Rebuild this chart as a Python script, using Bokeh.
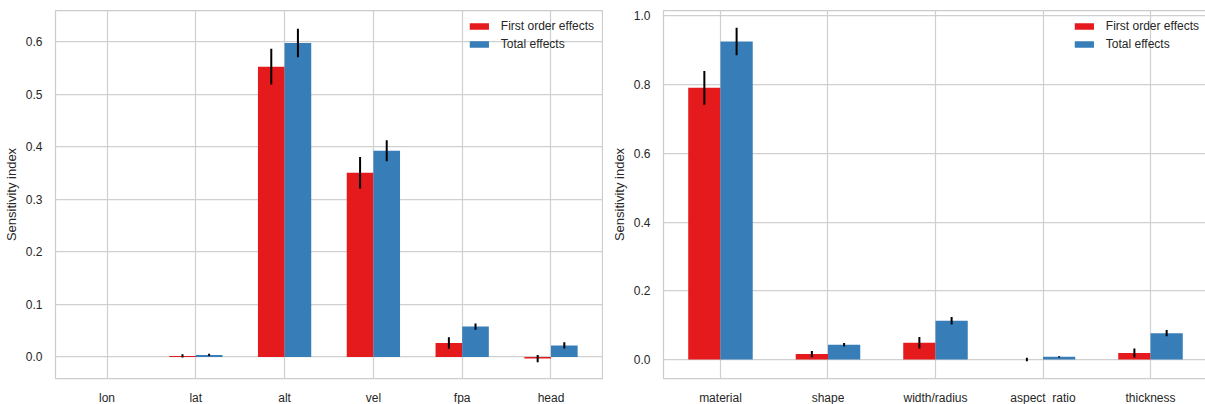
from bokeh.plotting import figure
from bokeh.layouts import row
from bokeh.models import ColumnDataSource, Range1d, FixedTicker, PrintfTickFormatter
from bokeh.embed import file_html
from bokeh.resources import INLINE

# ---- data: left panel ----
left_cats = ["lon", "lat", "alt", "vel", "fpa", "head"]
left_first = [0.0, 0.002, 0.553, 0.351, 0.0265, -0.003]
left_first_err = [0.0, 0.003, 0.034, 0.030, 0.011, 0.007]
left_total = [0.0, 0.004, 0.598, 0.393, 0.058, 0.022]
left_total_err = [0.0, 0.002, 0.027, 0.020, 0.006, 0.006]
left_yticks = [0.0, 0.1, 0.2, 0.3, 0.4, 0.5, 0.6]

# ---- data: right panel ----
right_cats = ["material", "shape", "width/radius", "aspect_ratio", "thickness"]
right_first = [0.791, 0.016, 0.049, 0.0005, 0.019]
right_first_err = [0.049, 0.009, 0.017, 0.005, 0.013]
right_total = [0.926, 0.043, 0.113, 0.008, 0.077]
right_total_err = [0.040, 0.005, 0.011, 0.002, 0.009]
right_yticks = [0.0, 0.2, 0.4, 0.6, 0.8, 1.0]

RED = "#e41a1c"
BLUE = "#377eb8"
GRID = "#d0d0d0"
TXT = "#262626"
FONT = "Liberation Sans"
BW = 0.3


def make_panel(cats, first, ferr, total, terr, yticks, yr, fw, fh, mbl):
    n = len(cats)
    idx = list(range(n))
    span = (n - 1) + 2 * BW
    xr = (-BW - 0.05 * span, (n - 1) + BW + 0.05 * span)
    p = figure(frame_width=fw, frame_height=fh, output_backend="svg",
               toolbar_location=None, x_range=Range1d(*xr), y_range=Range1d(*yr),
               min_border_left=mbl, min_border_right=1, min_border_top=10,
               min_border_bottom=25)
    p.background_fill_color = "white"
    p.border_fill_color = "white"
    p.outline_line_color = "#cccccc"
    p.outline_line_width = 1.25

    src_f = ColumnDataSource(dict(x=[i - BW / 2 for i in idx], top=first,
                                  lo=[v - e for v, e in zip(first, ferr)],
                                  hi=[v + e for v, e in zip(first, ferr)]))
    src_t = ColumnDataSource(dict(x=[i + BW / 2 for i in idx], top=total,
                                  lo=[v - e for v, e in zip(total, terr)],
                                  hi=[v + e for v, e in zip(total, terr)]))
    p.vbar(x="x", top="top", bottom=0, width=BW, source=src_f, fill_color=RED,
           line_color=None, legend_label="First order effects")
    p.vbar(x="x", top="top", bottom=0, width=BW, source=src_t, fill_color=BLUE,
           line_color=None, legend_label="Total effects")
    p.segment(x0="x", y0="lo", x1="x", y1="hi", source=src_f, line_color="black", line_width=2)
    p.segment(x0="x", y0="lo", x1="x", y1="hi", source=src_t, line_color="black", line_width=2)

    p.xaxis.ticker = FixedTicker(ticks=idx)
    p.xaxis.major_label_overrides = {i: c for i, c in zip(idx, cats)}
    p.yaxis.ticker = FixedTicker(ticks=yticks)
    p.yaxis.formatter = PrintfTickFormatter(format="%.1f")
    p.yaxis.axis_label = "Sensitivity index"
    for ax in (p.xaxis, p.yaxis):
        ax.axis_line_color = None
        ax.major_tick_line_color = None
        ax.minor_tick_line_color = None
        ax.major_label_text_font = FONT
        ax.major_label_text_font_size = "12px"
        ax.major_label_text_color = TXT
    p.xaxis.major_label_standoff = 6
    p.yaxis.major_label_standoff = 7
    p.yaxis.axis_label_text_font = FONT
    p.yaxis.axis_label_text_font_size = "13px"
    p.yaxis.axis_label_text_font_style = "normal"
    p.yaxis.axis_label_text_color = TXT
    p.yaxis.axis_label_standoff = 4
    p.xgrid.ticker = FixedTicker(ticks=idx)
    p.ygrid.ticker = FixedTicker(ticks=yticks)
    for g in (p.xgrid, p.ygrid):
        g.grid_line_color = GRID
        g.grid_line_width = 1.25

    lg = p.legend[0]
    lg.location = "top_right"
    lg.background_fill_alpha = 0
    lg.border_line_alpha = 0
    lg.label_text_font = FONT
    lg.label_text_font_size = "12px"
    lg.label_text_color = TXT
    lg.glyph_width = 24
    lg.glyph_height = 8
    lg.label_height = 15
    lg.label_standoff = 10
    lg.spacing = 3
    lg.padding = 6
    lg.margin = 2
    return p


p1 = make_panel(left_cats, left_first, left_first_err, left_total, left_total_err,
                left_yticks, (-0.041, 0.66), 547, 368, 52)
p2 = make_panel(right_cats, right_first, right_first_err, right_total, right_total_err,
                right_yticks, (-0.055, 1.016), 544, 368, 60)

layout = row(p1, p2, spacing=0)
open("out.html", "w").write(file_html(layout, INLINE))
